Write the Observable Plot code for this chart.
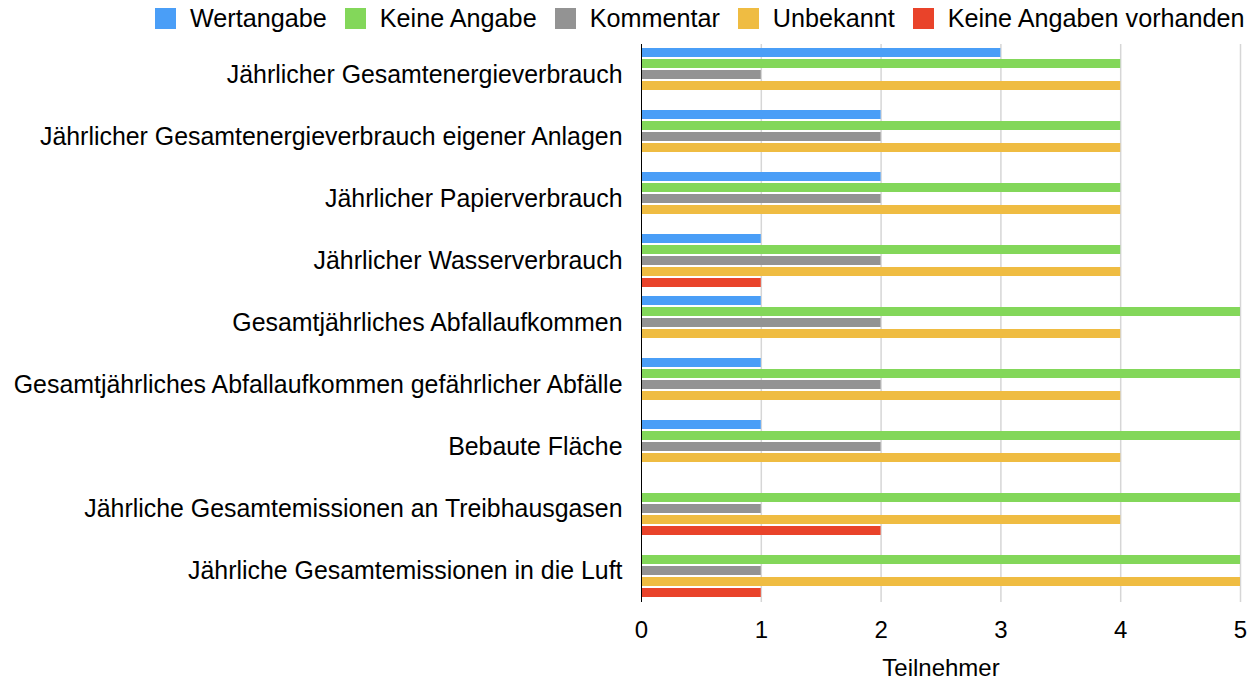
<!DOCTYPE html>
<html>
<head>
<meta charset="utf-8">
<script src="https://cdn.jsdelivr.net/npm/d3@7"></script>
<script src="https://cdn.jsdelivr.net/npm/@observablehq/plot@0.6"></script>
<style>
  html, body { margin: 0; padding: 0; background: #fff; }
  body { width: 1257px; height: 681px; overflow: hidden; font-family: "Liberation Sans", Arial, sans-serif; }
  #legend { height: 37px; display: flex; align-items: center; padding-left: 155px; font-size: 25.2px; color: #000; white-space: nowrap; }
  .item { display: flex; align-items: center; margin-right: 18px; }
  .sw { width: 21px; height: 21px; margin-right: 14px; }
  svg { display: block; }
</style>
</head>
<body>
<div id="legend"></div>
<div id="chart"></div>
<script>
const categories = [
  "Jährlicher Gesamtenergieverbrauch",
  "Jährlicher Gesamtenergieverbrauch eigener Anlagen",
  "Jährlicher Papierverbrauch",
  "Jährlicher Wasserverbrauch",
  "Gesamtjährliches Abfallaufkommen",
  "Gesamtjährliches Abfallaufkommen gefährlicher Abfälle",
  "Bebaute Fläche",
  "Jährliche Gesamtemissionen an Treibhausgasen",
  "Jährliche Gesamtemissionen in die Luft"
];
const seriesNames = ["Wertangabe", "Keine Angabe", "Kommentar", "Unbekannt", "Keine Angaben vorhanden"];
const wertangabe      = [3, 2, 2, 1, 1, 1, 1, 0, 0];
const keineAngabe     = [4, 4, 4, 4, 5, 5, 5, 5, 5];
const kommentar       = [1, 2, 2, 2, 2, 2, 2, 1, 1];
const unbekannt       = [4, 4, 4, 4, 4, 4, 4, 4, 5];
const keineVorhanden  = [0, 0, 0, 1, 0, 0, 0, 2, 1];
const colors = ["#4a9ef7", "#83d75a", "#939393", "#efbc42", "#e9432a"];
const xTicks = [0, 1, 2, 3, 4, 5];

const seriesValues = [wertangabe, keineAngabe, kommentar, unbekannt, keineVorhanden];
const data = categories.flatMap((c, i) =>
  seriesNames.map((s, j) => ({category: c, series: s, value: seriesValues[j][i]}))
);

// legend
const legend = document.getElementById("legend");
seriesNames.forEach((s, j) => {
  const it = document.createElement("div");
  it.className = "item";
  const sw = document.createElement("div");
  sw.className = "sw";
  sw.style.background = colors[j];
  const t = document.createElement("span");
  t.textContent = s;
  it.appendChild(sw); it.appendChild(t);
  legend.appendChild(it);
});

const chart = Plot.plot({
  width: 1257,
  height: 644,
  marginLeft: 641,
  marginRight: 17,
  marginTop: 6.5,
  marginBottom: 79.5,
  style: {fontFamily: "Liberation Sans, Arial, sans-serif", color: "#000", background: "#fff"},
  x: {domain: [0, 5], ticks: xTicks},
  fy: {domain: categories, padding: 0, label: null},
  y: {domain: seriesNames, paddingInner: 0.09, paddingOuter: 0.24, axis: null},
  color: {domain: seriesNames, range: colors},
  marks: [
    Plot.gridX(xTicks.filter(d => d > 0), {stroke: "#d6d6d6", strokeOpacity: 1, strokeWidth: 1.5}),
    Plot.barX(data, {fy: "category", y: "series", x: "value", fill: "series", insetTop: 0.5, insetBottom: 0.5}),
    Plot.ruleX([0], {stroke: "#000", strokeWidth: 1}),
    Plot.axisFy({anchor: "left", tickSize: 0, tickPadding: 19, fontSize: 24.9, label: null}),
    Plot.axisX(xTicks, {anchor: "bottom", tickSize: 0, tickPadding: 18, fontSize: 24, tickFormat: d => String(d),
      label: "Teilnehmer", labelAnchor: "center", labelArrow: "none", labelOffset: 73})
  ]
});
document.getElementById("chart").appendChild(chart);
</script>
</body>
</html>
